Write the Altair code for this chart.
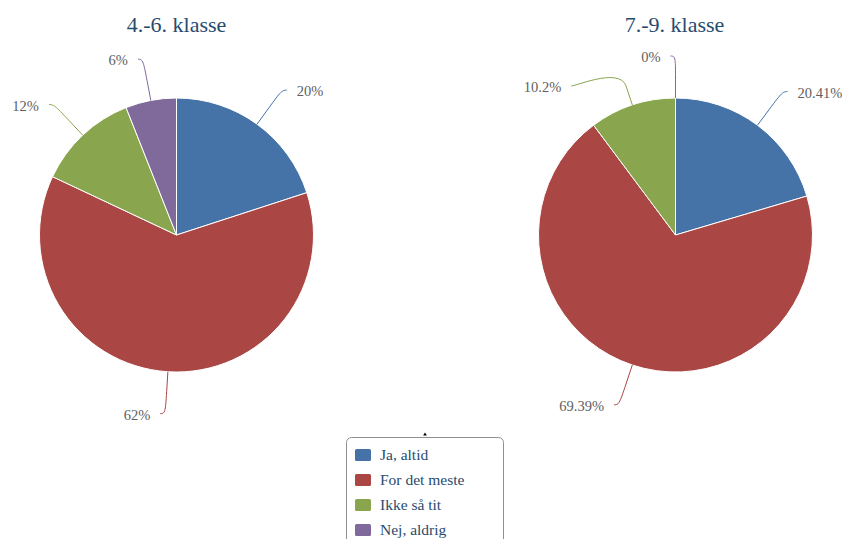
import math
import altair as alt
import numpy as np
import pandas as pd

# ---------------- data ----------------
categories = ["Ja, altid", "For det meste", "Ikke så tit", "Nej, aldrig"]
values_4_6 = [20, 62, 12, 6]
values_7_9 = [20.41, 69.39, 10.2, 0]
labels_4_6 = ["20%", "62%", "12%", "6%"]
labels_7_9 = ["20.41%", "69.39%", "10.2%", "0%"]
titles = ["4.-6. klasse", "7.-9. klasse"]

# ---------------- style / layout ----------------
colors = ["#4572A7", "#AA4643", "#89A54E", "#80699B"]
W, H = 834, 531
R = 137            # pie radius (px)
R_LABEL = 179      # radius of label anchor
R_BREAK = R + 20   # connector break
MIN_GAP = 30       # min vertical gap between labels on the same side
centers = [(168.5, 227.0), (667.5, 227.0)]
FONT = "Liberation Serif"

xs = alt.Scale(domain=[0, W], nice=False, zero=False)
ys = alt.Scale(domain=[0, H], nice=False, zero=False, reverse=True)


def pie_tables(values, labels, center, pie):
    cx, cy = center
    tot = float(sum(values))
    cum = np.concatenate([[0.0], np.cumsum(values)])
    slices, texts, conns = [], [], []
    info = []
    for i, cat in enumerate(categories):
        slices.append({"pie": pie, "cat": cat, "idx": i, "value": values[i]})
        a = 2 * math.pi * (cum[i] + values[i] / 2.0) / tot
        s, c = math.sin(a), math.cos(a)
        left = a > math.pi
        info.append({"i": i, "s": s, "c": c, "left": left,
                     "ay": cy - R_LABEL * c, "ax": cx + R_LABEL * s})
    # simple collision handling per side (top to bottom)
    for side in (True, False):
        grp = sorted([d for d in info if d["left"] == side], key=lambda d: d["ay"])
        for prev, cur in zip(grp, grp[1:]):
            if cur["ay"] - prev["ay"] < MIN_GAP:
                cur["ay"] = prev["ay"] + MIN_GAP
                dy = cur["ay"] - cy
                dx = math.sqrt(max(R_LABEL ** 2 - dy ** 2, 0))
                cur["ax"] = cx - dx if side else cx + dx
    for d in info:
        i = d["i"]
        cat = categories[i]
        sgn = -1 if d["left"] else 1
        E = np.array([cx + R * d["s"], cy - R * d["c"]])
        B = np.array([cx + R_BREAK * d["s"], cy - R_BREAK * d["c"]])
        A = np.array([d["ax"], d["ay"]])
        P0 = np.array([d["ax"] + sgn * 5, d["ay"]])
        C2 = 2 * B - E
        pts = []
        for t in np.linspace(0, 1, 16):
            p = ((1 - t) ** 3) * P0 + 3 * ((1 - t) ** 2) * t * A + 3 * (1 - t) * t * t * C2 + t ** 3 * B
            pts.append(p)
        pts.append(E)
        for k, p in enumerate(pts):
            conns.append({"pie": pie, "cat": cat, "step": k, "x": p[0], "y": p[1],
                          "hex": colors[i]})
        texts.append({"pie": pie, "cat": cat, "label": labels[i],
                      "x": d["ax"] + sgn * 15, "y": d["ay"] + 2,
                      "side": "right" if d["left"] else "left"})
    return pd.DataFrame(slices), pd.DataFrame(texts), pd.DataFrame(conns)


layers = []
all_texts = []
all_conns = []
for pie, (vals, labs) in enumerate([(values_4_6, labels_4_6), (values_7_9, labels_7_9)]):
    sl, tx, cn = pie_tables(vals, labs, centers[pie], pie)
    all_texts.append(tx)
    all_conns.append(cn)
    arc = alt.Chart(sl).mark_arc(outerRadius=R, stroke="white", strokeWidth=1).encode(
        theta=alt.Theta("value:Q", stack=True),
        order=alt.Order("idx:Q", sort="ascending"),
        color=alt.Color(
            "cat:N",
            scale=alt.Scale(domain=categories, range=colors),
            sort=categories,
            legend=alt.Legend(
                title=None,
                orient="none",
                legendX=347,
                legendY=439,
                padding=0,
                symbolType="M-0.8,-0.75H0.8A0.2,0.2 0 0 1 1,-0.55V0.55A0.2,0.2 0 0 1 0.8,0.75H-0.8A0.2,0.2 0 0 1 -1,0.55V-0.55A0.2,0.2 0 0 1 -0.8,-0.75Z",
                symbolSize=256,
                symbolStrokeWidth=0,
                symbolOpacity=1,
                labelFont=FONT,
                labelFontSize=15.5,
                labelColor="#274b6d",
                labelOffset=9,
                rowPadding=8,
            ),
        ),
        x=alt.value(centers[pie][0]),
        y=alt.value(centers[pie][1]),
    )
    layers.append(arc)

texts_df = pd.concat(all_texts, ignore_index=True)
conns_df = pd.concat(all_conns, ignore_index=True)

connectors = alt.Chart(conns_df).mark_line(strokeWidth=1).encode(
    x=alt.X("x:Q", scale=xs, axis=None),
    y=alt.Y("y:Q", scale=ys, axis=None),
    detail=["pie:N", "cat:N"],
    order=alt.Order("step:Q"),
    color=alt.Color("hex:N", scale=None),
)

label_base = alt.Chart(texts_df)
labels_left = label_base.transform_filter(alt.datum.side == "left").mark_text(
    align="left", baseline="middle", font=FONT, fontSize=14.5, color="#606060"
).encode(x=alt.X("x:Q", scale=xs, axis=None), y=alt.Y("y:Q", scale=ys, axis=None), text="label:N")
labels_right = label_base.transform_filter(alt.datum.side == "right").mark_text(
    align="right", baseline="middle", font=FONT, fontSize=14.5, color="#606060"
).encode(x=alt.X("x:Q", scale=xs, axis=None), y=alt.Y("y:Q", scale=ys, axis=None), text="label:N")

title_df = pd.DataFrame({"title": titles, "x": [168.5, 666.5], "y": [24, 24]})
title_layer = alt.Chart(title_df).mark_text(
    align="center", baseline="alphabetic", font=FONT, fontSize=22, color="#274b6d"
).encode(x=alt.X("x:Q", scale=xs, axis=None), y=alt.Y("y:Q", scale=ys, axis=None), text="title:N")

legend_frame = alt.Chart(pd.DataFrame({"k": [0]})).mark_rect(
    fillOpacity=0, stroke="#909090", strokeWidth=1, cornerRadius=5
).encode(x=alt.value(338.5), x2=alt.value(495.5), y=alt.value(429.5), y2=alt.value(545))

nav_arrow = alt.Chart(pd.DataFrame({"k": [0]})).mark_point(
    shape="triangle-up", filled=True, color="black", size=14, opacity=1
).encode(x=alt.value(417), y=alt.value(426))

chart = alt.layer(
    legend_frame, nav_arrow, *layers, connectors, labels_left, labels_right, title_layer
).resolve_scale(theta="independent").properties(
    width=W, height=H, autosize=alt.AutoSizeParams(type="none"), padding=0
).configure_view(stroke=None)

chart.save("out.html", embed_options={"renderer": "svg", "actions": False})
